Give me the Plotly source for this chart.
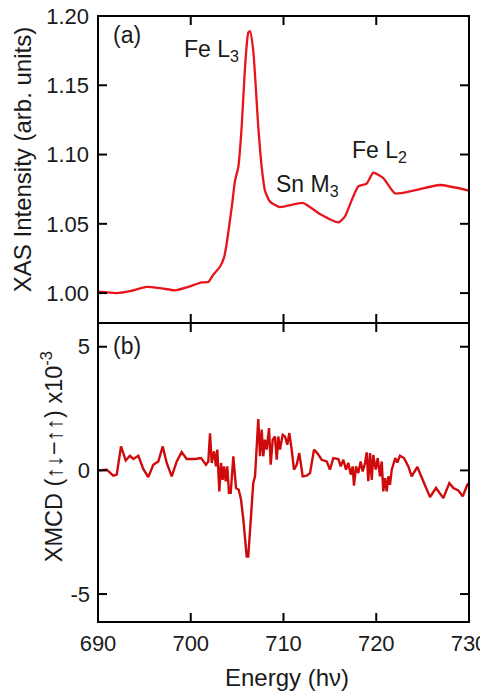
import plotly.graph_objects as go
from plotly.subplots import make_subplots

# XAS (top panel)
xas_energy = [690.0, 692.0, 693.45, 695.25, 696.87, 698.3, 699.74, 701.18, 701.9, 702.4,
              703.15, 703.6, 703.88, 704.42, 704.77, 705.13, 705.49, 705.85, 706.2, 706.39,
              706.74, 707.28, 707.65, 708.0, 708.54, 709.6, 712.13, 713.93, 715.9, 716.6,
              717.35, 718.06, 718.97, 719.68, 720.76, 722.02, 724.0, 726.87, 730.0]
xas_value = [1.001, 1.000, 1.0014, 1.0045, 1.0034, 1.002, 1.0045, 1.0077, 1.008, 1.013,
             1.019, 1.026, 1.036, 1.062, 1.081, 1.091, 1.120, 1.163, 1.188, 1.189,
             1.175, 1.120, 1.091, 1.074, 1.066, 1.062, 1.065, 1.057, 1.051, 1.055,
             1.067, 1.077, 1.079, 1.087, 1.083, 1.072, 1.074, 1.078, 1.074]

# XMCD (bottom panel), units of 1e-3
xmcd_energy = [690.0, 690.94, 691.65, 692.02, 692.48, 692.99, 693.45, 693.81, 694.35, 694.88,
               695.42, 695.96, 696.50, 696.98, 697.41, 697.95, 698.49, 699.02, 699.56, 700.46,
               701.11, 701.64, 701.89, 702.08, 702.26, 702.51, 702.72, 702.86, 703.08, 703.26,
               703.44, 703.59, 703.77, 703.94, 704.12, 704.31, 704.59, 704.88, 705.17, 705.42,
               705.67, 705.85, 706.03, 706.20, 706.39, 706.57, 706.74, 706.93, 707.11, 707.28,
               707.47, 707.65, 707.82, 708.00, 708.19, 708.44, 708.62, 708.84, 709.08, 709.27,
               709.44, 709.62, 709.91, 710.16, 710.41, 710.63, 710.88, 711.13, 711.42, 711.70,
               712.07, 712.50, 712.86, 713.29, 713.64, 714.12, 714.66, 715.01, 715.37, 715.91,
               716.17, 716.45, 716.74, 716.99, 717.25, 717.46, 717.60, 717.82, 718.06, 718.32,
               718.54, 718.79, 718.97, 719.14, 719.33, 719.51, 719.68, 719.94, 720.16, 720.40,
               720.59, 720.76, 720.94, 721.13, 721.30, 721.48, 721.67, 721.84, 722.05, 722.27,
               722.56, 722.99, 723.46, 723.82, 724.43, 725.07, 725.80, 726.44, 727.23, 727.88,
               728.31, 728.85, 729.32, 729.82, 730.0]
xmcd_value = [0.0, 0.03, -0.21, -0.17, 0.97, 0.40, 0.59, 0.46, 0.59, 0.06,
              -0.27, 0.23, 0.36, 0.97, 0.30, -0.24, 0.36, 0.74, 0.46, 0.46,
              0.50, 0.23, 0.36, 1.50, 0.30, 0.77, 0.16, 0.84, -0.85, 0.30,
              -0.38, 0.16, -0.44, 0.16, -0.91, -0.91, 0.57, -0.71, -0.78, -1.18,
              -1.99, -2.94, -3.48, -3.48, -2.26, -1.59, -0.51, -0.24, 0.97, 2.08,
              0.57, 1.65, 0.57, 1.24, 0.84, 1.71, 0.23, 1.24, 1.37, 0.43,
              1.37, 0.84, 1.44, 1.37, 1.04, 1.51, 0.84, 0.03, 0.23, 0.70,
              -0.24, -0.21, -0.11, 0.84, 0.70, 0.43, 0.36, 0.03, 0.50, 0.46,
              0.16, 0.43, 0.03, 0.30, -0.17, 0.16, -0.62, 0.16, -0.11, 0.36,
              -0.04, 0.30, 0.73, -0.44, 0.70, -0.38, 0.63, 0.03, 0.50, -0.24,
              0.36, -0.85, -0.31, -0.85, -0.24, -0.58, 0.03, 0.23, 0.50, 0.32,
              0.59, 0.50, 0.16, -0.24, 0.14, -0.44, -1.08, -0.71, -1.12, -0.51,
              -0.71, -0.81, -1.05, -0.58, -0.51]

x_ticks = [690, 700, 710, 720, 730]
xas_ticks = [1.00, 1.05, 1.10, 1.15, 1.20]
xas_ticklabels = ["1.00", "1.05", "1.10", "1.15", "1.20"]
xmcd_ticks = [-5, 0, 5]
xmcd_ticklabels = ["-5", "0", "5"]

FONT = "Liberation Sans, Arial, Helvetica, sans-serif"
TXT = "#1a1a1a"

# plot-area size in px (figure is offset by the page's 8px body margin)
PLOT_W, TOP_H, BOT_H = 371, 307, 299
TICK = 9

fig = make_subplots(rows=2, cols=1, shared_xaxes=False, vertical_spacing=0,
                    row_heights=[TOP_H, BOT_H])

fig.add_trace(go.Scatter(x=xas_energy, y=xas_value, mode="lines",
                         line=dict(color="#e8141c", width=2.3, shape="spline", smoothing=0.5),
                         showlegend=False), row=1, col=1)
fig.add_trace(go.Scatter(x=xmcd_energy, y=xmcd_value, mode="lines",
                         line=dict(color="#cf0a0a", width=2.4),
                         showlegend=False), row=2, col=1)

axis_common = dict(showline=False, ticks="", showgrid=False, zeroline=False, automargin=False,
                   ticklabeloverflow="allow",
                   tickfont=dict(family=FONT, size=22, color=TXT))

fig.update_xaxes(range=[690, 730], tickvals=x_ticks, showticklabels=False,
                 row=1, col=1, **axis_common)
fig.update_xaxes(range=[690, 730], tickvals=x_ticks, row=2, col=1,
                 ticklabelstandoff=6, **axis_common)
fig.update_yaxes(range=[0.9784, 1.2], tickvals=xas_ticks, ticktext=xas_ticklabels,
                 row=1, col=1, ticklabelstandoff=8, **axis_common)
fig.update_yaxes(range=[-6.13, 5.96], tickvals=xmcd_ticks, ticktext=xmcd_ticklabels,
                 row=2, col=1, ticklabelstandoff=7, **axis_common)

# frame and inward ticks on all four sides of each panel
frame = dict(color="black", width=2)
panels = [("x", "y", xas_ticks, TOP_H), ("x2", "y2", xmcd_ticks, BOT_H)]
for xr, yr, yt, h in panels:
    fig.add_shape(type="rect", xref=f"{xr} domain", yref=f"{yr} domain",
                  x0=0, x1=1, y0=0, y1=1, line=frame, layer="above")
    for xv in x_ticks[1:-1]:
        fig.add_shape(type="line", xref=xr, yref=f"{yr} domain", x0=xv, x1=xv,
                      y0=0, y1=TICK / h, line=frame, layer="above")
        fig.add_shape(type="line", xref=xr, yref=f"{yr} domain", x0=xv, x1=xv,
                      y0=1, y1=1 - TICK / h, line=frame, layer="above")
    for yv in yt:
        fig.add_shape(type="line", xref=f"{xr} domain", yref=yr, x0=0, x1=TICK / PLOT_W,
                      y0=yv, y1=yv, line=frame, layer="above")
        fig.add_shape(type="line", xref=f"{xr} domain", yref=yr, x0=1, x1=1 - TICK / PLOT_W,
                      y0=yv, y1=yv, line=frame, layer="above")

ann_font = dict(family=FONT, size=23, color=TXT)
annotations = [
    dict(text="(a)", x=693.1, y=1.186, xref="x", yref="y"),
    dict(text="Fe L<sub>3</sub>", x=702.2, y=1.175, xref="x", yref="y"),
    dict(text="Sn M<sub>3</sub>", x=712.6, y=1.078, xref="x", yref="y"),
    dict(text="Fe L<sub>2</sub>", x=720.3, y=1.102, xref="x", yref="y"),
    dict(text="(b)", x=693.1, y=5.04, xref="x2", yref="y2"),
]
for a in annotations:
    fig.add_annotation(showarrow=False, font=ann_font, **a)

# axis titles
title_font = dict(family=FONT, size=24, color=TXT)
fig.add_annotation(text="Energy (hν)", xref="paper", yref="paper", x=0.51, y=0,
                   xanchor="center", yanchor="middle", yshift=-55, showarrow=False, font=title_font)
fig.add_annotation(text="XAS Intensity (arb. units)", xref="paper", yref="paper", x=0, y=0.762,
                   xanchor="center", yanchor="middle", xshift=-76, textangle=-90,
                   showarrow=False, font=title_font)
fig.add_annotation(text="XMCD (↑↓−↑↑) x10<sup>-3</sup>", xref="paper", yref="paper", x=0, y=0.272,
                   xanchor="center", yanchor="middle", xshift=-46, textangle=-90,
                   showarrow=False, font=dict(family=FONT, size=23.5, color=TXT))

fig.update_layout(width=480, height=684, paper_bgcolor="white", plot_bgcolor="white",
                  margin=dict(l=90, r=19, t=8, b=70, autoexpand=False), showlegend=False)

fig.write_html("out.html")
